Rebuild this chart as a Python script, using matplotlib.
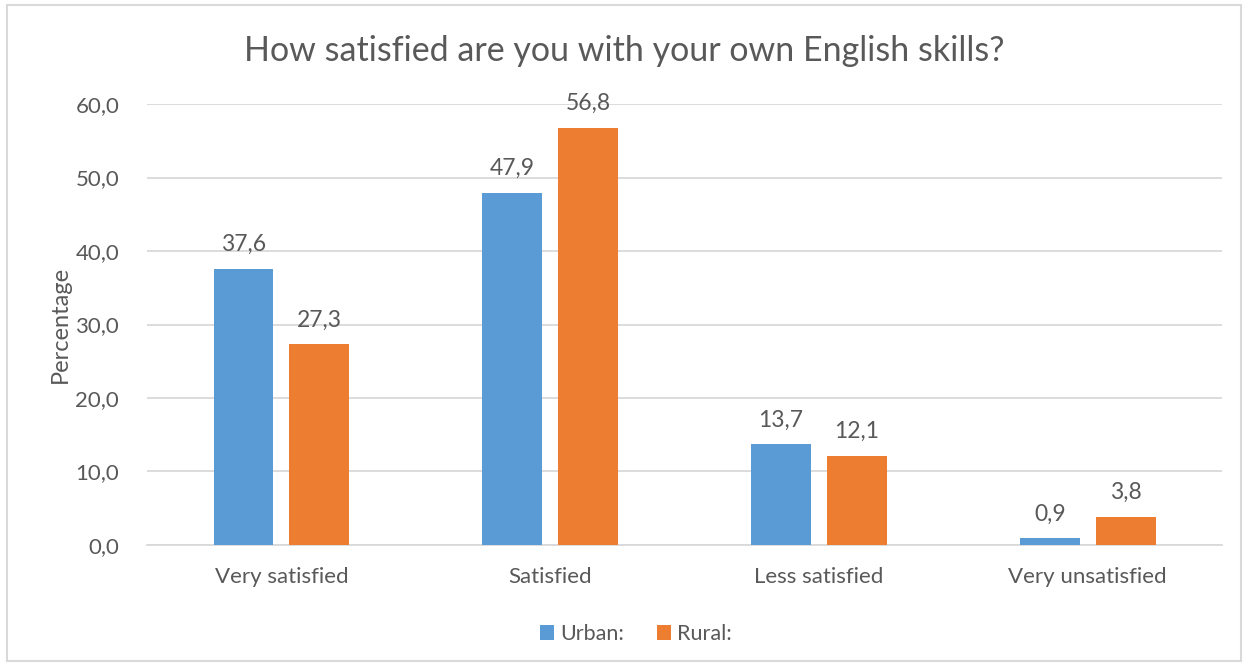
import matplotlib.pyplot as plt
import numpy as np
from matplotlib.patches import Rectangle

plt.rcParams['font.family'] = ['Lato', 'DejaVu Sans']

categories = ["Very satisfied", "Satisfied", "Less satisfied", "Very unsatisfied"]
urban = [37.6, 47.9, 13.7, 0.9]
rural = [27.3, 56.8, 12.1, 3.8]
yticks = [0, 10, 20, 30, 40, 50, 60]

text_color = "#595959"
grid_color = "#D9D9D9"
blue = "#5B9BD5"
orange = "#ED7D31"

fig = plt.figure(figsize=(12.48, 6.66), dpi=100)
ax = fig.add_axes([0.1178, 0.1817, 0.8614, 0.6621])

# рамка вокруг всей диаграммы, как в Excel
fig.patches.append(Rectangle((0.006, 0.008), 0.988, 0.984, transform=fig.transFigure,
                             fill=False, edgecolor=grid_color, linewidth=1.5))

x = np.arange(len(categories))
bar_width = 0.223
offset = 0.141

bars_u = ax.bar(x - offset, urban, width=bar_width, color=blue, label="Urban:", zorder=3)
bars_r = ax.bar(x + offset, rural, width=bar_width, color=orange, label="Rural:", zorder=3)

for bars, vals in ((bars_u, urban), (bars_r, rural)):
    for b, v in zip(bars, vals):
        ax.annotate(f"{v:.1f}".replace(".", ","), (b.get_x() + b.get_width() / 2, v),
                    xytext=(0, 10), textcoords="offset points", ha="center", va="bottom",
                    fontsize=16.5, color=text_color)

ax.set_xlim(-0.5, 3.5)
ax.set_ylim(0, 60)
ax.set_yticks(yticks)
ax.set_yticklabels([f"{t:.1f}".replace(".", ",") for t in yticks])
ax.set_xticks(x)
ax.set_xticklabels(categories)
ax.tick_params(axis="both", length=0, labelsize=16, colors=text_color)
ax.tick_params(axis="y", pad=20)
ax.tick_params(axis="x", pad=16)

ax.grid(axis="y", color=grid_color, linewidth=1.3, zorder=0)
for s in ["top", "right", "left"]:
    ax.spines[s].set_visible(False)
ax.spines["bottom"].set_color(grid_color)
ax.spines["bottom"].set_linewidth(1.3)

ax.set_ylabel("Percentage", fontsize=17, color=text_color, labelpad=3)

fig.text(0.5, 0.923, "How satisfied are you with your own English skills?",
         ha="center", va="center", fontsize=24.5, color=text_color)

leg = ax.legend(loc="upper center", bbox_to_anchor=(0.455, -0.135), ncol=2, frameon=False,
                fontsize=15.5, handlelength=0.65, handleheight=0.65, handletextpad=0.3,
                columnspacing=1.5)
for t in leg.get_texts():
    t.set_color(text_color)

fig.savefig("out.png", dpi=100)
